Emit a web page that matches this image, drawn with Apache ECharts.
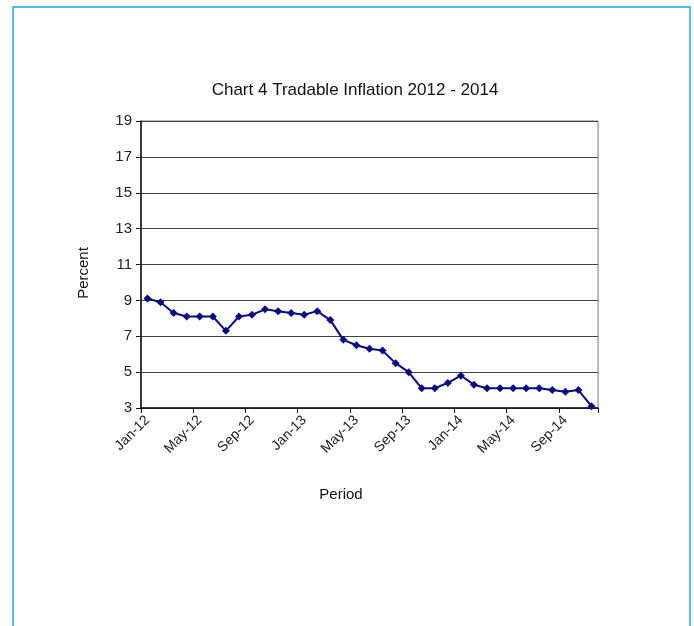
<!DOCTYPE html>
<html>
<head>
<meta charset="utf-8">
<script src="https://cdn.jsdelivr.net/npm/echarts@6/dist/echarts.min.js"></script>
<style>
html,body{margin:0;padding:0;background:#fff;}
#chart{width:694px;height:626px;}
</style>
</head>
<body>
<div id="chart"></div>
<script>
const categories = ["Jan-12","Feb-12","Mar-12","Apr-12","May-12","Jun-12","Jul-12","Aug-12","Sep-12","Oct-12","Nov-12","Dec-12",
  "Jan-13","Feb-13","Mar-13","Apr-13","May-13","Jun-13","Jul-13","Aug-13","Sep-13","Oct-13","Nov-13","Dec-13",
  "Jan-14","Feb-14","Mar-14","Apr-14","May-14","Jun-14","Jul-14","Aug-14","Sep-14","Oct-14","Nov-14"];
const tradableInflation = [9.1,8.9,8.3,8.1,8.1,8.1,7.3,8.1,8.2,8.5,8.4,8.3,
  8.2,8.4,7.9,6.8,6.5,6.3,6.2,5.5,5.0,4.1,4.1,4.4,
  4.8,4.3,4.1,4.1,4.1,4.1,4.1,4.0,3.9,4.0,3.1];
const yTicks = [3,5,7,9,11,13,15,17,19];

const font = 'Liberation Sans, Arial';
const chart = echarts.init(document.getElementById('chart'));
chart.setOption({
  animation: false,
  backgroundColor: '#fff',
  title: {
    text: 'Chart 4 Tradable Inflation 2012 - 2014',
    left: 350, top: 77, textAlign: 'center',
    textStyle: {fontFamily: font, fontSize: 17, fontWeight: 'normal', color: '#111'}
  },
  graphic: [
    {type: 'rect', shape: {x: 13, y: 7, width: 677, height: 640},
     style: {fill: 'none', stroke: '#1aa6e6', lineWidth: 1.5}, silent: true},
    {type: 'text', x: 341, y: 495,
     style: {text: 'Period', font: '15px ' + font, fill: '#111', textAlign: 'center', textVerticalAlign: 'middle'}},
    {type: 'text', x: 84, y: 273, rotation: Math.PI / 2,
     style: {text: 'Percent', font: '15px ' + font, fill: '#111', textAlign: 'center', textVerticalAlign: 'middle'}}
  ],
  grid: {left: 141, right: 96, top: 121, bottom: 218, show: true, borderColor: '#777', borderWidth: 1},
  xAxis: {
    type: 'category', data: categories, boundaryGap: true,
    axisLine: {lineStyle: {color: '#111', width: 1.5}},
    axisTick: {show: true, interval: 3, length: 5, lineStyle: {color: '#111'}},
    axisLabel: {interval: 3, rotate: 45, margin: 10, fontFamily: font, fontSize: 14, color: '#222'},
    splitLine: {show: false}
  },
  yAxis: {
    type: 'value', min: 3, max: 19, interval: 2,
    axisLine: {show: true, lineStyle: {color: '#111', width: 1.5}},
    axisTick: {show: true, length: 5, lineStyle: {color: '#111'}},
    axisLabel: {fontFamily: font, fontSize: 15, color: '#222', margin: 9,
      formatter: v => yTicks.includes(v) ? String(v) : ''},
    splitLine: {show: true, lineStyle: {color: '#444', width: 1}}
  },
  series: [{
    type: 'line', data: tradableInflation,
    symbol: 'diamond', symbolSize: 8,
    lineStyle: {color: '#0a0a80', width: 2},
    itemStyle: {color: '#0a0a80'}
  }]
});
</script>
</body>
</html>
